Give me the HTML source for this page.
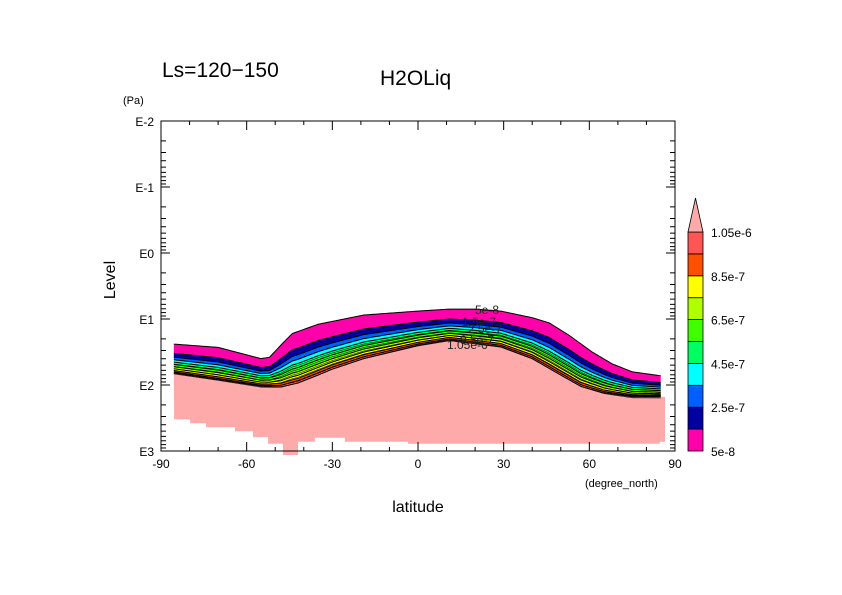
<!DOCTYPE html>
<html><head><meta charset="utf-8"><style>
body{margin:0;background:#fff}
svg{display:block;font-family:"Liberation Sans",sans-serif}
</style></head><body>
<svg id="c" width="842" height="595" viewBox="0 0 842 595">
<text x="162" y="77" font-size="21">Ls=120−150</text>
<text x="380" y="85" font-size="21">H2OLiq</text>
<text x="123" y="104" font-size="11">(Pa)</text>
<text x="115" y="280" font-size="16" transform="rotate(-90 115 280)" text-anchor="middle">Level</text>
<text x="418" y="512" font-size="16" text-anchor="middle">latitude</text>
<text x="585" y="487" font-size="11">(degree_north)</text>
<g id="plot"></g>
<g id="cbar"></g>
</svg>
<script>
// data
const topLat = [-85.5, -70, -55, -52, -47, -44, -35, -19, 0, 11, 20, 29, 40, 46, 53, 61, 68, 75, 85];
const topLev = [1.38, 1.43, 1.60, 1.58, 1.35, 1.22, 1.08, 0.94, 0.88, 0.85, 0.85, 0.88, 0.98, 1.06, 1.25, 1.50, 1.68, 1.80, 1.86];
const baseLat = [-85.5, -70, -55, -48, -42, -35, -30, -19, 0, 11, 29, 40, 50, 57, 65, 75, 85];
const baseLev = [1.82, 1.92, 2.02, 2.03, 1.97, 1.85, 1.76, 1.60, 1.40, 1.32, 1.42, 1.60, 1.85, 2.02, 2.12, 2.18, 2.18];
const groundLat = [-85.4, -79.8, -74.2, -64.1, -57.8, -52.5, -47.3, -42, -36.1, -25.6, -3.5, 23.4, 84.7];
const groundLev = [2.52, 2.58, 2.64, 2.70, 2.79, 2.89, 3.06, 2.86, 2.80, 2.86, 2.89, 2.89, 2.86];
const groundEndLat = 86.5;
const bandFrac  = [0, 0.32, 0.45, 0.54, 0.62, 0.70, 0.78, 0.85, 0.91, 0.96, 1.0];
const bandColors= ["#ff00aa","#0000a0","#0060ff","#00ffff","#00ff60","#40ff00","#b0ff00","#ffff00","#ff5000","#ff5555"];
const cbLabels  = ["5e-8","2.5e-7","4.5e-7","6.5e-7","8.5e-7","1.05e-6"];
const xTicks = [-90,-60,-30,0,30,60,90];
const yTicks = ["E-2","E-1","E0","E1","E2","E3"];

const L=161,R=675,T=121,B=451;
const X=lat=>L+(lat+90)*(R-L)/180;
const Y=lg=>T+(lg+2)*(B-T)/5;
const NS="http://www.w3.org/2000/svg";
function mk(tag,attrs,parent){const e=document.createElementNS(NS,tag);for(const k in attrs)e.setAttribute(k,attrs[k]);parent.appendChild(e);return e;}
const plot=document.getElementById('plot');
function interp(xs,ys,x){if(x<=xs[0])return ys[0];for(let i=0;i<xs.length-1;i++){if(x<=xs[i+1]){const t=(x-xs[i])/(xs[i+1]-xs[i]);return ys[i]+t*(ys[i+1]-ys[i]);}}return ys[ys.length-1];}
const lat0=topLat[0],lat1=topLat[topLat.length-1];
const samp=[];for(let la=lat0;la<lat1;la+=0.5)samp.push(la);samp.push(lat1);
function lvl(la,f){const a=interp(topLat,topLev,la),b=interp(baseLat,baseLev,la);return a+f*(b-a);}
// pink region
let pd="M"+X(lat0)+","+Y(lvl(lat0,1));
samp.forEach(la=>pd+=" L"+X(la)+","+Y(lvl(la,1)));
pd+=" L"+X(groundEndLat)+","+Y(lvl(lat1,1));
for(let i=groundLat.length-1;i>=0;i--){const x2=i==groundLat.length-1?X(groundEndLat):X(groundLat[i+1]);pd+=" L"+x2+","+Y(groundLev[i])+" L"+X(groundLat[i])+","+Y(groundLev[i]);}
pd+="Z";
const g=mk('path',{d:pd,fill:"#ffaaaa"},plot);


// bands
for(let b=0;b<bandColors.length;b++){
  let d="";samp.forEach((la,i)=>d+=(i?" L":"M")+X(la)+","+Y(lvl(la,bandFrac[b])));
  for(let i=samp.length-1;i>=0;i--)d+=" L"+X(samp[i])+","+Y(lvl(samp[i],bandFrac[b+1]));
  d+="Z";
  const p=mk('path',{d:d,fill:bandColors[b]},plot);
  
  
}
for(let b=0;b<bandFrac.length;b++){
  let d="";samp.forEach((la,i)=>d+=(i?" L":"M")+X(la)+","+Y(lvl(la,bandFrac[b])));
  const p=mk('path',{d:d,fill:"none",stroke:"#000","stroke-width":1},plot);
  
  
  if(b>=4&&b<bandFrac.length-1){
    const q=mk('path',{d:d,fill:"none",stroke:"#000","stroke-width":0.5,transform:"translate(0,2)"},plot);
    
    }
}
// contour labels
[["5e-8",475,314],["1.5e-7",462,326],["2.5e-7",468,333],["1.05e-6",447,349],["9.5e-7",460,344]].forEach(t=>{
  const e=mk('text',{x:t[1],y:t[2],"font-size":12,fill:"#222"},plot);e.textContent=t[0];
  
  
});
// frame
const fr=mk('rect',{x:L,y:T,width:R-L,height:B-T,fill:"none",stroke:"#000","stroke-width":1},plot);


// x ticks
for(let la=-90;la<=90;la+=10){const maj=la%30==0,len=maj?9:4;
  mk('line',{x1:X(la),x2:X(la),y1:B,y2:B-len,stroke:"#000"},plot);
  mk('line',{x1:X(la),x2:X(la),y1:T,y2:T+len,stroke:"#000"},plot);}
xTicks.forEach(v=>{const e=mk('text',{x:X(v),y:468,"font-size":12,"text-anchor":"middle"},plot);e.textContent=v;
  
  });
// y ticks
yTicks.forEach((s,i)=>{const lg=i-2;const y=Y(lg);
  mk('line',{x1:L,x2:L+9,y1:y,y2:y,stroke:"#000"},plot);mk('line',{x1:R,x2:R-9,y1:y,y2:y,stroke:"#000"},plot);
  if(i<5)for(let m=2;m<=9;m++){const ym=Y(lg+Math.log10(m));mk('line',{x1:L,x2:L+5,y1:ym,y2:ym,stroke:"#000"},plot);mk('line',{x1:R,x2:R-5,y1:ym,y2:ym,stroke:"#000"},plot);}
  const e=mk('text',{x:154,y:y+5,"font-size":12,"text-anchor":"end"},plot);e.textContent=s;
  
  });
// colorbar
const cb=document.getElementById('cbar');
const cx=688,cw=15,cT=232,cB=451,bh=(cB-cT)/bandColors.length;
bandColors.forEach((c,i)=>{const r=mk('rect',{x:cx,y:cB-(i+1)*bh,width:cw,height:bh,fill:c,stroke:"#000","stroke-width":0.8},cb);
  
  });
const tri=mk('path',{d:`M${cx},${cT} L${cx+cw/2},198 L${cx+cw},${cT}Z`,fill:"#ffaaaa",stroke:"#000","stroke-width":0.8},cb);


cbLabels.forEach((s,i)=>{const e=mk('text',{x:711,y:cB-i*2*bh+5,"font-size":12},cb);e.textContent=s;
  
  });
</script>
</body></html>
